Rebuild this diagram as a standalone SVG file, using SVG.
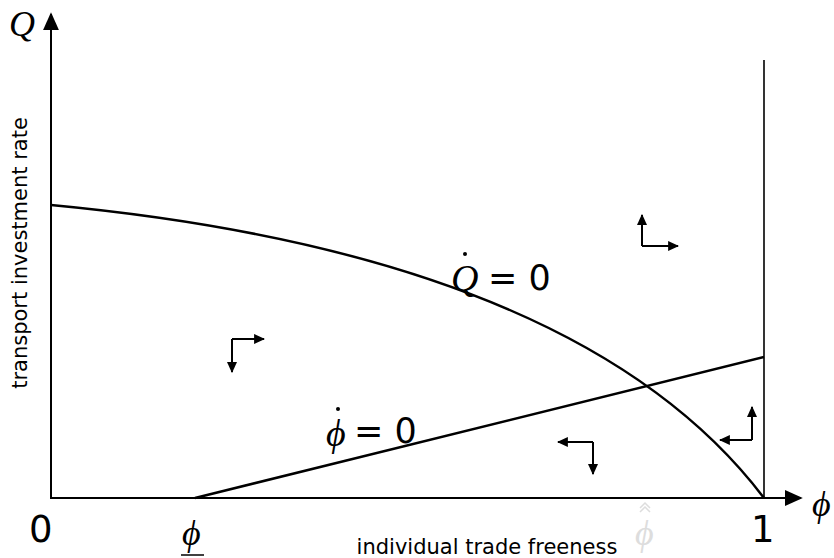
<svg xmlns="http://www.w3.org/2000/svg" width="834" height="558" viewBox="0 0 834 558">
<defs>
<marker id="ah" viewBox="0 0 10 10" refX="9" refY="5" markerWidth="11" markerHeight="10" markerUnits="userSpaceOnUse" orient="auto" preserveAspectRatio="none"><path d="M0,0 L10,5 L0,10 Z" fill="#000"/></marker>
<marker id="axh" viewBox="0 0 10 10" refX="9" refY="5" markerWidth="18" markerHeight="16" markerUnits="userSpaceOnUse" orient="auto" preserveAspectRatio="none"><path d="M0,0 L10,5 L0,10 Z" fill="#000"/></marker>
</defs>
<style>
.ax{stroke:#000;stroke-width:2;fill:none}
.cv{stroke:#000;stroke-width:2.5;fill:none}
.ar{stroke:#000;stroke-width:2;fill:none;marker-end:url(#ah)}
.mi{font-family:"Liberation Serif","DejaVu Serif",serif;font-style:italic}
.sa{font-family:"DejaVu Sans","Liberation Sans",sans-serif}
</style>
<rect width="834" height="558" fill="#fff"/>
<g id="connectors">
<line class="ax" x1="51" y1="499" x2="51" y2="14" marker-end="url(#axh)"/>
<line class="ax" x1="50" y1="498" x2="801" y2="498" marker-end="url(#axh)"/>
<line x1="764" y1="60" x2="764" y2="498" stroke="#000" stroke-width="1.6"/>
<path id="qdot" class="cv" d="M51,205 Q580,255 764,498"/>
<path id="phidot" class="cv" d="M195,498 L764,357"/>
<g id="arrows1"><path class="ar" d="M232,339 L264,339"/><path class="ar" d="M232,339 L232,372"/></g>
<g id="arrows2"><path class="ar" d="M593,442 L558,442"/><path class="ar" d="M593,442 L593,474"/></g>
<g id="arrows3"><path class="ar" d="M642,246 L642,215"/><path class="ar" d="M642,246 L678,246"/></g>
<g id="arrows4"><path class="ar" d="M752,440 L720,440"/><path class="ar" d="M752,440 L752,407"/></g>
</g>
<g id="labels">
<text class="mi" x="9" y="36" font-size="36">Q</text>
<text class="mi" x="812" y="516" font-size="36">ϕ</text>
<text class="sa" x="29" y="542" font-size="37">0</text>
<text class="sa" x="751" y="542" font-size="37">1</text>
<g id="phi-low"><text class="mi" x="182" y="545" font-size="36">ϕ</text><line x1="181" y1="555" x2="204" y2="555" stroke="#000" stroke-width="1.5"/></g>
<g id="phi-hat"><text class="mi" x="635" y="545" font-size="36" fill="#ddd">ϕ</text><path d="M640,508 L645,503 L650,508 M640,512 L645,507 L650,512" stroke="#ddd" stroke-width="1.5" fill="none"/></g>
<text class="sa" x="487" y="554" font-size="21" text-anchor="middle">individual trade freeness</text>
<text class="sa" x="0" y="0" font-size="21" text-anchor="middle" transform="translate(27,253) rotate(-90)">transport investment rate</text>
<g id="qdot-label"><text class="mi" x="451" y="291" font-size="38">Q</text><circle cx="465" cy="254" r="2" fill="#000"/><text class="sa" x="488" y="290" font-size="35">= 0</text></g>
<g id="phidot-label"><text class="mi" x="326" y="446" font-size="38">ϕ</text><circle cx="338" cy="409" r="2" fill="#000"/><text class="sa" x="354" y="443" font-size="35">= 0</text></g>
</g>
</svg>
